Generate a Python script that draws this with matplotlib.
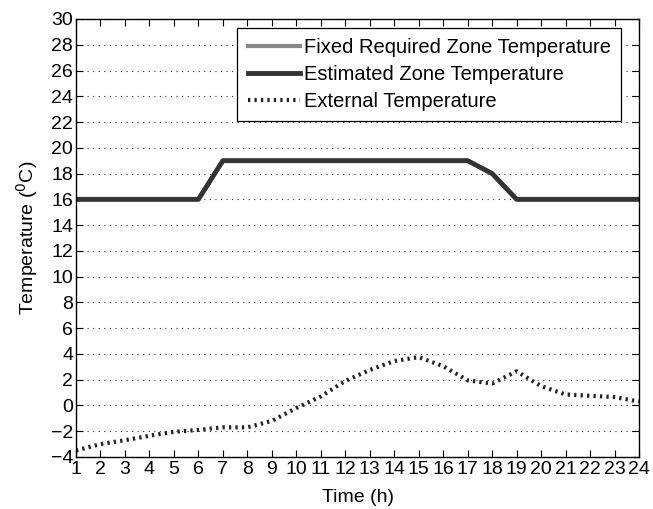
import matplotlib
matplotlib.use("Agg")
import matplotlib.pyplot as plt

hours = list(range(1, 25))
required_zone = [16, 16, 16, 16, 16, 16, 19, 19, 19, 19, 19, 19,
                 19, 19, 19, 19, 19, 18, 16, 16, 16, 16, 16, 16]
estimated_zone = [16, 16, 16, 16, 16, 16, 19, 19, 19, 19, 19, 19,
                  19, 19, 19, 19, 19, 18, 16, 16, 16, 16, 16, 16]
external = [-3.5, -3.0, -2.7, -2.35, -2.05, -1.9, -1.7, -1.7, -1.2, -0.2, 0.7, 1.9,
            2.75, 3.45, 3.75, 3.05, 1.95, 1.7, 2.65, 1.5, 0.85, 0.75, 0.65, 0.3]

plt.rcParams["font.family"] = ["Liberation Sans", "DejaVu Sans"]

fig = plt.figure(figsize=(6.53, 5.09), dpi=100)
ax = fig.add_axes([0.1164, 0.1022, 0.8622, 0.8605])

ax.plot(hours, required_zone, color="#888888", lw=3, label="Fixed Required Zone Temperature")
ax.plot(hours, estimated_zone, color="#333333", lw=3.5, label="Estimated Zone Temperature")
ax.plot(hours, external, color="#222222", lw=3, linestyle=(0, (0.55, 1.0)),
        dash_capstyle="butt", label="External Temperature")

ax.set_xlim(1, 24)
ax.set_ylim(-4, 30)
ax.set_xticks(hours)
ax.set_yticks(range(-4, 31, 2))
ax.tick_params(direction="in", top=True, right=True, labelsize=14, length=5, width=0.8, pad=2)
ax.tick_params(axis="x", pad=3)
ax.yaxis.grid(True, linestyle=(0, (1, 4)), color="#333333", lw=0.8)
for s in ax.spines.values():
    s.set_linewidth(1.0)

ax.set_xlabel("Time (h)", fontsize=14, labelpad=8)
ax.set_ylabel("Temperature ($^0$C)", fontsize=14, labelpad=8)

leg = ax.legend(loc="upper right", bbox_to_anchor=(0.968, 0.979), fontsize=14.5,
                fancybox=False, framealpha=1, edgecolor="black", handlelength=2.6,
                handletextpad=0.2, borderpad=0.5, labelspacing=0.38, borderaxespad=0)
leg.get_frame().set_linewidth(0.9)

fig.savefig("out.png", dpi=100)
